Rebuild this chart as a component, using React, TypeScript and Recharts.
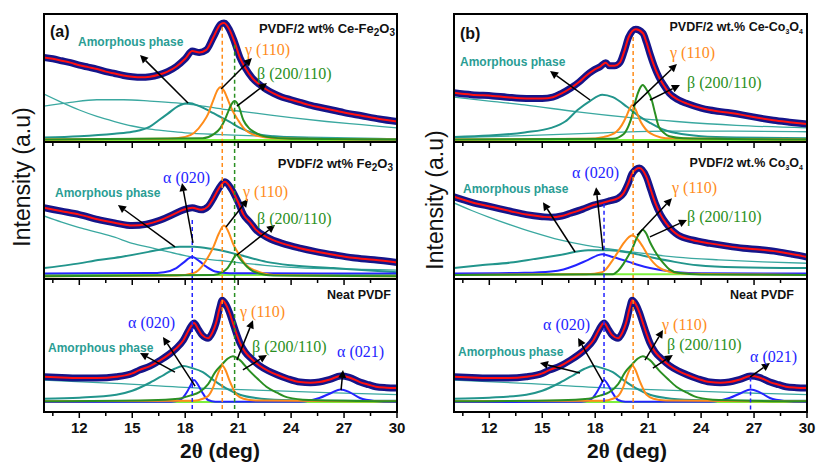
import React from 'react';
import { ComposedChart, Line, XAxis, YAxis, ReferenceLine } from 'recharts';

type P = [number, number];

const xTicks = [10.5, 12, 13.5, 15, 16.5, 18, 19.5, 21, 22.5, 24, 25.5, 27, 28.5, 30];

// (a) top: PVDF/2 wt% Ce-Fe2O3
const ceFeFit: P[] = [[10, 66], [10.5, 65], [11, 63.5], [11.5, 62], [12, 60], [12.5, 58.5], [13, 57], [13.5, 55], [14, 53.5], [14.5, 52], [15, 51], [15.5, 50.5], [16, 51], [16.5, 52.5], [17, 55], [17.5, 59], [18, 65], [18.4, 71], [18.8, 70], [19.2, 72], [19.6, 82], [20, 92], [20.2, 93], [20.5, 88], [20.8, 78], [21.1, 66], [21.4, 58], [21.8, 50], [22.2, 45], [22.6, 41], [23, 38], [23.5, 35], [24, 33], [24.5, 31], [25, 29], [26, 26], [27, 23], [28, 20.5], [29, 18], [30, 16]];
const ceFeTail: P[] = [[10, 37.5], [11, 31], [12, 25], [13, 20], [14, 16], [15, 12.5], [16, 10], [17, 8.5], [18, 7.2], [20, 5.8], [22, 4.8], [25, 3.8], [30, 2.5]];
const ceFeBroad: P[] = [[10, 28], [11.5, 31], [13, 33], [14.5, 33], [16, 32], [17.5, 30.5], [19, 28], [20.5, 25], [22, 22.5], [24, 19], [26, 16], [28, 13.5], [30, 11]];
const ceFeAmor: P[] = [[10, 3.5], [12, 4.5], [14, 6.5], [15, 8], [16, 12], [16.5, 17], [17, 22], [17.6, 28], [18.2, 30.5], [18.8, 28], [19.4, 24], [19.8, 21], [20.5, 16], [21.1, 11], [22, 6.5], [23, 4.5], [25, 3], [30, 2]];
const ceFeGamma: P[] = [[10, 2], [17, 2.5], [18, 4], [18.5, 7], [19, 15], [19.3, 22], [19.6, 33], [19.85, 41], [20, 43], [20.2, 40], [20.45, 32], [20.7, 24], [21, 17], [21.3, 11], [22, 5], [23, 3], [30, 2]];
const ceFeBeta: P[] = [[10, 2], [19, 3], [19.6, 6], [20, 11], [20.2, 16], [20.4, 22.5], [20.6, 29], [20.8, 32], [21, 29], [21.3, 17], [21.6, 11], [21.9, 8], [22.6, 4], [24, 2.5], [30, 2]];
const ceFeBase: P[] = [[10, 1.5], [30, 1.5]];
const ceFeArrows = [[18.16, 30.5, 15.44, 68], [20.03, 41.4, 21.78, 65.6], [20.93, 28, 22.63, 46]];

// (a) middle: PVDF/2 wt% Fe2O3
const feFit: P[] = [[10, 52], [11, 49.5], [12, 47], [13.2, 43], [14, 41], [15, 39], [15.8, 40], [16.6, 43], [17.3, 47], [17.9, 50.5], [18.4, 52], [18.9, 50.5], [19.3, 53], [19.6, 59], [19.9, 66], [20.25, 71], [20.6, 66], [21, 56], [21.3, 47], [21.7, 41], [22, 36], [22.7, 30], [23.5, 26], [24.5, 22.5], [25.4, 20], [26.5, 17.5], [27.5, 15.5], [28.7, 14], [30, 12]];
const feTail: P[] = [[10, 46], [11, 41.5], [12, 37.5], [13.2, 33.5], [14, 30.5], [15, 26], [16, 23], [17, 20], [18, 17], [18.8, 15], [20, 13.5], [21, 12], [22.5, 10], [24, 8.5], [26, 7.5], [28, 7], [30, 6.5]];
const feBroad: P[] = [[10, 8], [11.5, 10.5], [13.2, 14], [14.5, 16.5], [16, 20], [17, 22.5], [17.7, 23.5], [18.5, 23.5], [19.5, 22], [21.1, 17.5], [22.6, 12.5], [24, 10], [26.4, 8], [28, 6.5], [30, 5]];
const feAlpha: P[] = [[10, 4], [16, 4.3], [16.8, 5], [17.5, 8], [17.9, 12], [18.4, 16], [18.8, 13], [19.2, 9], [19.7, 5.5], [20.5, 4.2], [30, 4]];
const feGamma: P[] = [[10, 2], [17.5, 2.5], [18.5, 4.5], [19, 10], [19.3, 16], [19.6, 23.5], [19.9, 33], [20.2, 39], [20.5, 33], [20.7, 26], [21, 19], [21.3, 12.5], [21.6, 8.5], [22, 6], [23, 3], [30, 2]];
const feBeta: P[] = [[10, 2], [19.6, 3], [20.1, 5], [20.4, 8], [20.65, 13], [20.9, 17.5], [21.15, 14], [21.5, 9], [21.8, 6], [22.2, 4], [23, 2.5], [30, 2]];
const feBase: P[] = [[10, 3], [30, 3]];
const feArrows = [[18.44, 26.3, 17.82, 70], [17.42, 23.4, 14.19, 54], [20.31, 38, 21.56, 58.4], [20.93, 17.5, 23.09, 39.4]];

// bottom: Neat PVDF
const neatFit: P[] = [[10, 26.5], [11, 26], [12.2, 25.5], [13, 25.5], [14.1, 26.5], [15, 29], [15.4, 31.5], [16, 34.5], [16.6, 39], [17.1, 43.5], [17.5, 48], [17.9, 54], [18.2, 61.5], [18.5, 67], [18.75, 62], [18.95, 58], [19.3, 55.5], [19.55, 60], [19.75, 67], [19.95, 78], [20.1, 84], [20.3, 81], [20.5, 75], [20.7, 67], [20.9, 59], [21.1, 52], [21.4, 45], [21.8, 39.5], [22.2, 35], [22.7, 31], [23.2, 28], [23.8, 25], [24.5, 22.5], [25.1, 22], [25.6, 22.5], [26.2, 24.5], [26.8, 27], [27.3, 26], [27.9, 22.5], [28.4, 20.5], [28.8, 19], [29.4, 18.3], [30, 18]];
const neatTail: P[] = [[10, 24], [14, 21.5], [18.8, 18], [22, 16.5], [26, 14.5], [30, 13]];
const neatAmor: P[] = [[10, 10], [12, 10.8], [14.1, 13], [15, 16], [16, 22], [16.8, 28], [17.4, 32.5], [17.9, 34.5], [18.4, 33], [19, 30], [19.6, 24], [20.3, 18], [21.1, 13], [22, 10.5], [23.5, 9], [26, 8.5], [30, 8.5]];
const neatAlpha: P[] = [[10, 7.5], [17.2, 7.7], [17.7, 9], [18.1, 15], [18.3, 20], [18.5, 24], [18.7, 21], [19, 14], [19.3, 9], [19.7, 7.8], [24.5, 7.8], [25.6, 10.5], [26.3, 14.5], [26.8, 17], [27.3, 15], [27.9, 10.5], [28.7, 8.3], [30, 7.5]];
const neatGamma: P[] = [[10, 8], [18.5, 8.5], [19, 10], [19.3, 12], [19.6, 19], [19.8, 27], [20, 33], [20.1, 35], [20.3, 31], [20.5, 24], [20.7, 18], [20.9, 13], [21.3, 10], [22, 8.7], [30, 8]];
const neatBeta: P[] = [[10, 8], [16, 8.8], [17.6, 10], [18.3, 12.5], [18.8, 15], [19.3, 21], [19.7, 30], [20.1, 36], [20.4, 40], [20.7, 42], [21.1, 39], [21.6, 31.5], [22.1, 25], [22.6, 19], [23.2, 14.5], [23.8, 11], [25, 9], [30, 8]];
const neatBase: P[] = [[10, 7.5], [30, 7.5]];
const neatArrowsA = [[18.56, 19.5, 16.74, 56.4], [17.42, 30, 15.44, 44.4], [20.93, 39, 21.84, 69], [21.27, 31.6, 22.63, 42.9], [26.83, 16.5, 26.94, 31.6]];
const neatArrowsB = [[18.44, 22.5, 17.03, 55.6], [17.14, 29.3, 14.87, 36.8], [20.82, 39, 21.84, 61.7], [21.27, 33, 22.4, 42.9], [26.77, 26.3, 27.9, 36.8]];

// (b) top: PVDF/2 wt.% Ce-Co3O4
const ceCoFit: P[] = [[10, 38.5], [11, 37], [12.2, 36], [13, 35], [14.1, 34], [15, 34], [15.6, 35], [16.1, 38], [16.6, 42], [17.1, 47], [17.5, 52], [17.9, 56], [18.3, 59], [18.6, 62], [18.8, 59.5], [19.1, 59.5], [19.4, 62], [19.65, 71], [19.9, 82], [20.3, 88], [20.7, 85], [20.9, 78], [21.1, 69], [21.35, 59], [21.6, 51], [21.9, 44], [22.2, 38], [22.7, 33], [23.2, 30], [24, 26.5], [24.5, 25], [25.5, 23], [26.4, 21], [27.2, 19], [28.1, 17], [29, 15.5], [30, 14]];
const ceCoTail: P[] = [[10, 35], [12, 32], [14, 29], [17, 23.5], [20, 19], [22.6, 16], [26, 13], [30, 11]];
const ceCoBroad: P[] = [[10, 3.5], [14, 5], [18, 7], [22, 8.5], [26, 8.5], [30, 8]];
const ceCoAmor: P[] = [[10, 4], [12, 5], [14, 7.5], [15.5, 11], [16.3, 16], [17, 25], [17.7, 32], [18.4, 37], [19, 35], [19.8, 27.5], [20.4, 21], [21.1, 15], [21.8, 10], [22.6, 7], [24, 4.5], [26, 3.5], [30, 3]];
const ceCoGamma: P[] = [[10, 2], [17.5, 2.5], [18.5, 4], [19.2, 8], [19.5, 13], [19.75, 19.5], [19.95, 26], [20.1, 29], [20.3, 25], [20.5, 18], [20.7, 13], [21, 8], [21.4, 5], [22, 3], [30, 2]];
const ceCoBeta: P[] = [[10, 2], [19, 2.5], [19.6, 6], [19.9, 13], [20.1, 21], [20.3, 33], [20.5, 41], [20.7, 44.5], [20.9, 41], [21.2, 33], [21.4, 22], [21.6, 12], [21.9, 7], [22.2, 4.5], [23, 3], [30, 2]];
const ceCoBase: P[] = [[10, 1.5], [30, 1.5]];
const ceCoArrows = [[17.71, 32.8, 15.44, 55.5], [20.14, 28, 22.63, 61], [21.1, 32.8, 22.8, 44.5]];

// (b) middle: PVDF/2 wt.% Co3O4
const coFit: P[] = [[10, 60], [11, 56], [12.2, 52.5], [13.2, 49.5], [14.1, 47], [15, 45.5], [15.5, 45], [16.1, 46], [16.6, 48], [17.3, 51], [17.9, 54], [18.4, 55.5], [18.8, 57], [19.3, 59], [19.6, 62.5], [19.85, 69], [20.1, 77], [20.5, 81], [20.9, 74.5], [21.15, 65], [21.4, 55.5], [21.7, 47], [22, 41], [22.4, 35], [22.7, 32], [23.5, 28.5], [24.5, 26], [25.5, 24], [26.4, 22.5], [27.3, 21.5], [28.3, 20], [29.2, 18], [30, 16]];
const coTail: P[] = [[10, 55.5], [11, 50], [12, 45], [13.2, 39.5], [14.5, 34], [16, 28.5], [17.5, 24.5], [18.8, 22], [20.5, 19], [22.6, 16], [25, 14], [27.5, 12.5], [30, 11.5]];
const coBroad: P[] = [[10, 8], [11.5, 10], [13.2, 12], [14.5, 14.5], [16, 17.5], [17.6, 21], [18.8, 21], [20, 19], [21.1, 16], [22.5, 12.5], [23.8, 10], [26, 8.5], [30, 8]];
const coAlpha: P[] = [[10, 4], [14, 4.5], [15.5, 5.5], [16.2, 7], [16.9, 10], [17.6, 14], [18.4, 18], [19, 16], [19.9, 12.5], [20.5, 10], [21.1, 8], [22.6, 5], [24, 4.2], [30, 4]];
const coGamma: P[] = [[10, 3], [17.5, 3.5], [18.4, 5], [18.6, 7], [19, 14], [19.3, 20], [19.6, 26], [19.9, 30.5], [20.1, 32], [20.4, 29], [20.7, 23.5], [21, 17], [21.3, 12], [21.6, 8.5], [22, 6], [23, 4], [30, 3]];
const coBeta: P[] = [[10, 3], [19, 3.5], [19.3, 6], [19.6, 11], [19.9, 17.5], [20.1, 22], [20.3, 28.5], [20.5, 33], [20.7, 36], [20.9, 33], [21.1, 27], [21.35, 21], [21.6, 16], [21.9, 11], [22.2, 7], [22.7, 4.5], [24, 3.3], [30, 3]];
const coBase: P[] = [[10, 3.5], [30, 3.5]];
const coArrows = [[18.44, 21, 18.05, 67], [16.86, 19.7, 15.04, 56], [20.37, 32, 22.35, 59], [21.1, 30.7, 23.2, 43]];

// dashed peak markers (2theta)
const gammaA = 20.1;
const betaA = 20.8;
const alphaA = 18.4;
const gammaB = 20.15;
const alphaB = 18.5;
const alpha021B = 26.8;

const OBS = '#15158a';
const FIT = '#ff1010';
const TEAL = '#3aa8a0';
const AMOR = '#22958c';
const GAMMA = '#ff8c1a';
const BETA = '#2a8f22';
const ALPHA = '#2424ff';
const BASE = '#7df03c';

const toPts = (arr: P[]) => arr.map(([x, y]) => ({ x, y }));

const Tick = (props: any) => {
  const { x, y, payload, showLabel } = props;
  const major = payload.value % 3 === 0;
  return (
    <g>
      <line x1={x} x2={x} y1={y} y2={y + (major ? 6 : 4)} stroke="#000" strokeWidth={1.5} />
      {showLabel && major && (
        <text x={x} y={y + 21} textAnchor="middle" fontSize={15} fontWeight="bold" fill="#111"
          fontFamily="Arial, 'Liberation Sans', sans-serif">{payload.value}</text>
      )}
    </g>
  );
};

const Arrow = (props: any) => {
  const { x1, y1, x2, y2 } = props;
  const a = Math.atan2(y2 - y1, x2 - x1);
  const len = 8;
  const w = 4;
  const bx = x2 - len * Math.cos(a);
  const by = y2 - len * Math.sin(a);
  const pts = `${x2},${y2} ${bx + w * Math.sin(a)},${by - w * Math.cos(a)} ${bx - w * Math.sin(a)},${by + w * Math.cos(a)}`;
  return (
    <g>
      <line x1={x1} y1={y1} x2={bx} y2={by} stroke="#000" strokeWidth={1.5} />
      <polygon points={pts} fill="#000" />
    </g>
  );
};

interface Series { data: P[]; color: string; width: number }
interface Dash { x: number; top?: number; color: string }

const Panel = ({ left, top, height, series, dashes, arrows, labels }: {
  left: number; top: number; height: number; series: Series[]; dashes: Dash[]; arrows: number[][]; labels?: boolean;
}) => {
  const axisH = labels ? 40 : 8;
  return (
    <div style={{ position: 'absolute', left, top }}>
      <ComposedChart width={373} height={height + axisH} margin={{ top: 0, right: 20, bottom: 0, left: 0 }}>
        <XAxis type="number" dataKey="x" domain={[10, 30]} ticks={xTicks} interval={0} height={axisH}
          axisLine={false} tickLine={false} tickSize={0} tickMargin={0}
          tick={(p: any) => <Tick {...p} showLabel={labels} />} />
        <YAxis type="number" domain={[0, 100]} hide />
        {series.map((s, i) => (
          <Line key={i} data={toPts(s.data)} dataKey="y" type="monotone" stroke={s.color} strokeWidth={s.width}
            dot={false} activeDot={false} isAnimationActive={false} />
        ))}
        {dashes.map((d, i) => (
          <ReferenceLine key={'d' + i} segment={[{ x: d.x, y: d.top ?? 100 }, { x: d.x, y: 0 }]}
            stroke={d.color} strokeWidth={1.5} strokeDasharray="4 3" />
        ))}
        {arrows.map((a, i) => (
          <ReferenceLine key={'a' + i} segment={[{ x: a[0], y: a[1] }, { x: a[2], y: a[3] }]} shape={(p: any) => <Arrow {...p} />} />
        ))}
      </ComposedChart>
    </div>
  );
};

const mk = (base: P[], lines: [P[], string, number][], fit: P[]): Series[] => [
  { data: base, color: BASE, width: 2 },
  ...lines.map(([data, color, width]) => ({ data, color, width })),
  { data: fit, color: OBS, width: 7 },
  { data: fit, color: FIT, width: 2 },
];

const SANS = "Arial, 'Liberation Sans', sans-serif";
const SERIF = "'Liberation Serif', 'Times New Roman', serif";

const Txt = ({ x, y, right, color = '#111', size = 12, bold = true, serif = false, children }: any) => (
  <div style={{
    position: 'absolute', top: y, left: right === undefined ? x : undefined, right: right === undefined ? undefined : 816 - right,
    transform: 'translateY(-50%)', whiteSpace: 'nowrap', lineHeight: 1, color, fontSize: size,
    fontWeight: bold ? 'bold' : 'normal', fontFamily: serif ? SERIF : SANS,
  }}>{children}</div>
);

const Sub = ({ children, size = 10 }: any) => (
  <span style={{ fontSize: size, position: 'relative', top: 3 }}>{children}</span>
);

const Frame = ({ left }: { left: number }) => (
  <>
    <div style={{ position: 'absolute', left, top: 13, width: 355, height: 400, border: '2px solid #000', boxSizing: 'border-box' }} />
    <div style={{ position: 'absolute', left, top: 141, width: 355, height: 2, background: '#000' }} />
    <div style={{ position: 'absolute', left, top: 278, width: 355, height: 2, background: '#000' }} />
  </>
);

const PhaseLabels = ({ amor, gamma, beta, alpha, alpha2 }: any) => (
  <>
    {amor && <Txt x={amor[0]} y={amor[1]} color="#2a9d94">Amorphous phase</Txt>}
    {gamma && <Txt x={gamma[0]} y={gamma[1]} color={GAMMA} size={16} bold={false} serif>γ (110)</Txt>}
    {beta && <Txt x={beta[0]} y={beta[1]} color={BETA} size={16} bold={false} serif>β (200/110)</Txt>}
    {alpha && <Txt x={alpha[0]} y={alpha[1]} color={ALPHA} size={16} bold={false} serif>α (020)</Txt>}
    {alpha2 && <Txt x={alpha2[0]} y={alpha2[1]} color={ALPHA} size={16} bold={false} serif>α (021)</Txt>}
  </>
);

export default function App() {
  const AL = 44;
  const BL = 454;
  return (
    <div style={{ position: 'absolute', left: 0, top: 0, width: 816, height: 464, background: '#fff', overflow: 'hidden', fontFamily: SANS }}>
      {/* panel (a) */}
      <Panel left={AL} top={14} height={128}
        series={mk(ceFeBase, [[ceFeTail, TEAL, 1.3], [ceFeBroad, TEAL, 1.3], [ceFeAmor, AMOR, 2], [ceFeGamma, GAMMA, 2], [ceFeBeta, BETA, 2]], ceFeFit)}
        dashes={[{ x: gammaA, top: 90, color: GAMMA }, { x: betaA, top: 76, color: BETA }]} arrows={ceFeArrows} />
      <Panel left={AL} top={142} height={137}
        series={mk(feBase, [[feTail, TEAL, 1.3], [feBroad, AMOR, 2], [feAlpha, ALPHA, 2], [feGamma, GAMMA, 2], [feBeta, BETA, 2]], feFit)}
        dashes={[{ x: gammaA, color: GAMMA }, { x: betaA, color: BETA }, { x: alphaA, top: 43, color: ALPHA }]} arrows={feArrows} />
      <Panel left={AL} top={279} height={133} labels
        series={mk(neatBase, [[neatTail, TEAL, 1.3], [neatAmor, AMOR, 2], [neatAlpha, ALPHA, 2], [neatGamma, GAMMA, 2], [neatBeta, BETA, 2]], neatFit)}
        dashes={[{ x: gammaA, color: GAMMA }, { x: betaA, color: BETA }, { x: alphaA, color: ALPHA }]} arrows={neatArrowsA} />

      {/* panel (b) */}
      <Panel left={BL} top={14} height={128}
        series={mk(ceCoBase, [[ceCoTail, TEAL, 1.3], [ceCoBroad, TEAL, 1.3], [ceCoAmor, AMOR, 2], [ceCoGamma, GAMMA, 2], [ceCoBeta, BETA, 2]], ceCoFit)}
        dashes={[{ x: gammaB, top: 82, color: GAMMA }]} arrows={ceCoArrows} />
      <Panel left={BL} top={142} height={137}
        series={mk(coBase, [[coTail, TEAL, 1.3], [coBroad, AMOR, 2], [coAlpha, ALPHA, 2], [coGamma, GAMMA, 2], [coBeta, BETA, 2]], coFit)}
        dashes={[{ x: gammaB, color: GAMMA }, { x: alphaB, top: 55, color: ALPHA }]} arrows={coArrows} />
      <Panel left={BL} top={279} height={133} labels
        series={mk(neatBase, [[neatTail, TEAL, 1.3], [neatAmor, AMOR, 2], [neatAlpha, ALPHA, 2], [neatGamma, GAMMA, 2], [neatBeta, BETA, 2]], neatFit)}
        dashes={[{ x: gammaB, color: GAMMA }, { x: alphaB, color: ALPHA }, { x: alpha021B, top: 26, color: ALPHA }]} arrows={neatArrowsB} />

      <Frame left={43} />
      <Frame left={453} />

      {/* texts (a) */}
      <Txt x={50} y={32} size={16}>(a)</Txt>
      <Txt right={395} y={28} size={13}>PVDF/2 wt% Ce-Fe<Sub>2</Sub>O<Sub>3</Sub></Txt>
      <PhaseLabels amor={[78, 42]} gamma={[245, 50]} beta={[257, 74]} />
      <Txt right={393} y={163} size={13}>PVDF/2 wt% Fe<Sub>2</Sub>O<Sub>3</Sub></Txt>
      <PhaseLabels amor={[55, 193]} gamma={[243, 192]} beta={[257, 219]} alpha={[163, 178]} />
      <Txt right={391} y={295} size={12.5}>Neat PVDF</Txt>
      <PhaseLabels amor={[48, 348]} gamma={[240, 312]} beta={[252, 347]} alpha={[128, 323]} alpha2={[337, 352]} />

      {/* texts (b) */}
      <Txt x={460} y={34} size={16}>(b)</Txt>
      <Txt right={803} y={27} size={12.5}>PVDF/2 wt.% Ce-Co<Sub size={7}>3</Sub>O<Sub size={7}>4</Sub></Txt>
      <PhaseLabels amor={[460, 62]} gamma={[670, 53]} beta={[687, 83]} />
      <Txt right={803} y={163} size={12.5}>PVDF/2 wt.% Co<Sub size={7}>3</Sub>O<Sub size={7}>4</Sub></Txt>
      <PhaseLabels amor={[463, 189]} gamma={[672, 188]} beta={[687, 217]} alpha={[572, 173]} />
      <Txt right={794} y={295} size={12.5}>Neat PVDF</Txt>
      <PhaseLabels amor={[458, 352]} gamma={[662, 325]} beta={[667, 345]} alpha={[543, 325]} alpha2={[750, 357]} />

      {/* axis titles */}
      {[[22, 177], [435, 200]].map(([cx, cy], i) => (
        <div key={i} style={{
          position: 'absolute', left: cx, top: cy, transform: 'translate(-50%, -50%) rotate(-90deg)',
          whiteSpace: 'nowrap', fontSize: 23, color: '#111', fontFamily: SANS, lineHeight: 1,
        }}>Intensity (a.u)</div>
      ))}
      {[220, 627].map((cx, i) => (
        <div key={i} style={{
          position: 'absolute', left: cx, top: 451, transform: 'translate(-50%, -50%)',
          whiteSpace: 'nowrap', fontSize: 21, fontWeight: 'bold', color: '#111', fontFamily: SANS, lineHeight: 1,
        }}>2<span style={{ fontFamily: SERIF }}>θ</span> (deg)</div>
      ))}
    </div>
  );
}
